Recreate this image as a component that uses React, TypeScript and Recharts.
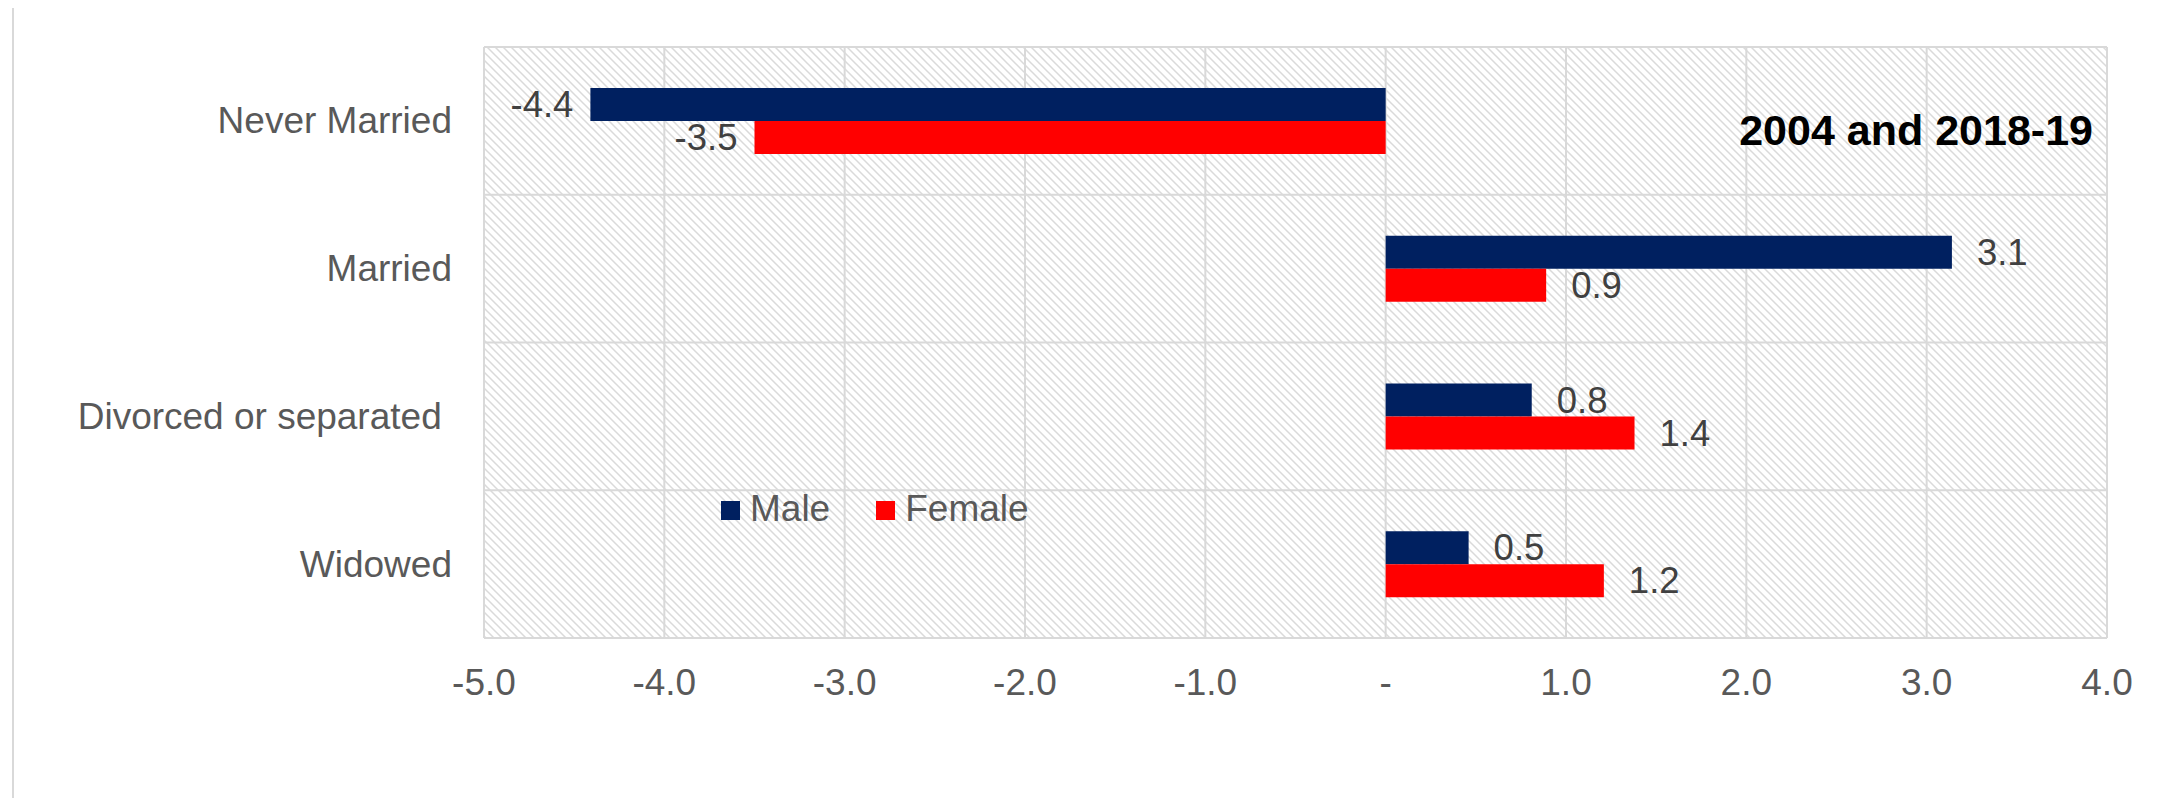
import React from 'react';
import { BarChart, Bar, XAxis, YAxis, CartesianGrid, Legend, LabelList } from 'recharts';

// change in share by marital status, percentage points
const categories = ['Never Married', 'Married', 'Divorced or separated ', 'Widowed'];
const maleValues = [-4.41, 3.14, 0.81, 0.46];
const femaleValues = [-3.5, 0.89, 1.38, 1.21];
const xTicks = [-5, -4, -3, -2, -1, 0, 1, 2, 3, 4];
const seriesNames = ['Male', 'Female'];
const seriesColors = ['#002060', '#FF0000'];
const periodNote = '2004 and 2018-19';
const titleTail = '(pp)';

const data = categories.map((status, i) => ({
  status,
  male: maleValues[i],
  female: femaleValues[i],
}));

const FONT = "'Liberation Sans', Arial, sans-serif";
const GRID = '#d9d9d9';
const TEXT_SIZE = 37;

const CategoryTick = (props: any) => {
  const { x, y, payload } = props;
  return (
    <text
      x={x}
      y={y}
      textAnchor="end"
      dominantBaseline="central"
      fill="#595959"
      fontSize={TEXT_SIZE}
      fontFamily={FONT}
      style={{ whiteSpace: 'pre' }}
    >
      {payload.value}
    </text>
  );
};

const renderValueLabel = (props: any) => {
  const vb = props.viewBox ?? props;
  const { x, y, width, height } = vb;
  const value = Number(props.value);
  const cy = y + height / 2;
  const negative = value < 0;
  const tx = negative ? Math.min(x, x + width) - 17 : Math.max(x, x + width) + 25;
  return (
    <text
      x={tx}
      y={cy}
      textAnchor={negative ? 'end' : 'start'}
      dominantBaseline="central"
      fill="#404040"
      fontSize={36.5}
      fontFamily={FONT}
    >
      {value.toFixed(1)}
    </text>
  );
};

const renderLegend = (props: any) => {
  const items = [...(props.payload || [])].sort(
    (a: any, b: any) => seriesNames.indexOf(a.value) - seriesNames.indexOf(b.value)
  );
  return (
    <div style={{ display: 'flex', alignItems: 'center', fontFamily: FONT, fontSize: TEXT_SIZE, lineHeight: '37px', color: '#595959' }}>
      {items.map((entry: any, i: number) => (
        <div key={i} style={{ display: 'flex', alignItems: 'center', marginRight: 46 }}>
          <span style={{ width: 19, height: 19, background: entry.color, display: 'inline-block', marginRight: 10, marginTop: 3 }} />
          <span>{entry.value}</span>
        </div>
      ))}
    </div>
  );
};

export default function App() {
  return (
    <div
      style={{
        position: 'relative',
        width: 2181,
        height: 806,
        margin: -8,
        overflow: 'hidden',
        background: '#fff',
      }}
    >
      {/* outer chart frame, runs off the right and bottom */}
      <div
        style={{
          position: 'absolute',
          left: 12,
          top: 5,
          width: 2400,
          height: 1000,
          border: `2px solid ${GRID}`,
          boxSizing: 'border-box',
        }}
      />
      <div style={{ position: 'absolute', left: 0, top: 0 }}>
        <BarChart
          width={2181}
          height={806}
          data={data}
          layout="vertical"
          margin={{ top: 47, right: 74, bottom: 108, left: 0 }}
          barGap={0}
        >
          <defs>
            <pattern id="hatch" width="8" height="8" patternUnits="userSpaceOnUse">
              <rect width="8" height="8" fill="#ffffff" />
              <path d="M-2,-2 L10,10 M-2,6 L2,10 M6,-2 L10,2" stroke="#dadada" strokeWidth={1.5} />
            </pattern>
          </defs>
          <CartesianGrid
            fill="url(#hatch)"
            fillOpacity={1}
            stroke={GRID}
            strokeWidth={2}
            horizontalCoordinatesGenerator={({ offset }: any) =>
              categories.concat(['']).map((_, i) => offset.top + (i * offset.height) / categories.length)
            }
          />
          <XAxis
            type="number"
            domain={[-5, 4]}
            ticks={xTicks}
            interval={0}
            tickFormatter={(v: number) => (v === 0 ? '-' : v.toFixed(1))}
            axisLine={false}
            tickLine={false}
            tickSize={0}
            tickMargin={31}
            height={60}
            tick={{ fill: '#595959', fontSize: TEXT_SIZE, fontFamily: FONT }}
          />
          <YAxis
            type="category"
            dataKey="status"
            width={484}
            interval={0}
            axisLine={false}
            tickLine={false}
            tickSize={0}
            tickMargin={32}
            tick={<CategoryTick />}
          />
          <Legend
            layout="horizontal"
            verticalAlign="middle"
            align="center"
            content={renderLegend}
            wrapperStyle={{ left: 721, top: 490, width: 'auto', height: 'auto' }}
          />
          <Bar dataKey="male" name={seriesNames[0]} fill={seriesColors[0]} barSize={33} isAnimationActive={false}>
            <LabelList dataKey="male" content={renderValueLabel} />
          </Bar>
          <Bar dataKey="female" name={seriesNames[1]} fill={seriesColors[1]} barSize={33} isAnimationActive={false}>
            <LabelList dataKey="female" content={renderValueLabel} />
          </Bar>
        </BarChart>
      </div>
      <svg
        width={2181}
        height={806}
        style={{ position: 'absolute', left: 0, top: 0, pointerEvents: 'none' }}
      >
        <text x={1168} y={-3} fontSize={45} fontFamily={FONT} fill="#595959">
          {titleTail}
        </text>
        <text x={2093} y={145} textAnchor="end" fontSize={43} fontWeight="bold" fontFamily={FONT} fill="#000">
          {periodNote}
        </text>
      </svg>
    </div>
  );
}
